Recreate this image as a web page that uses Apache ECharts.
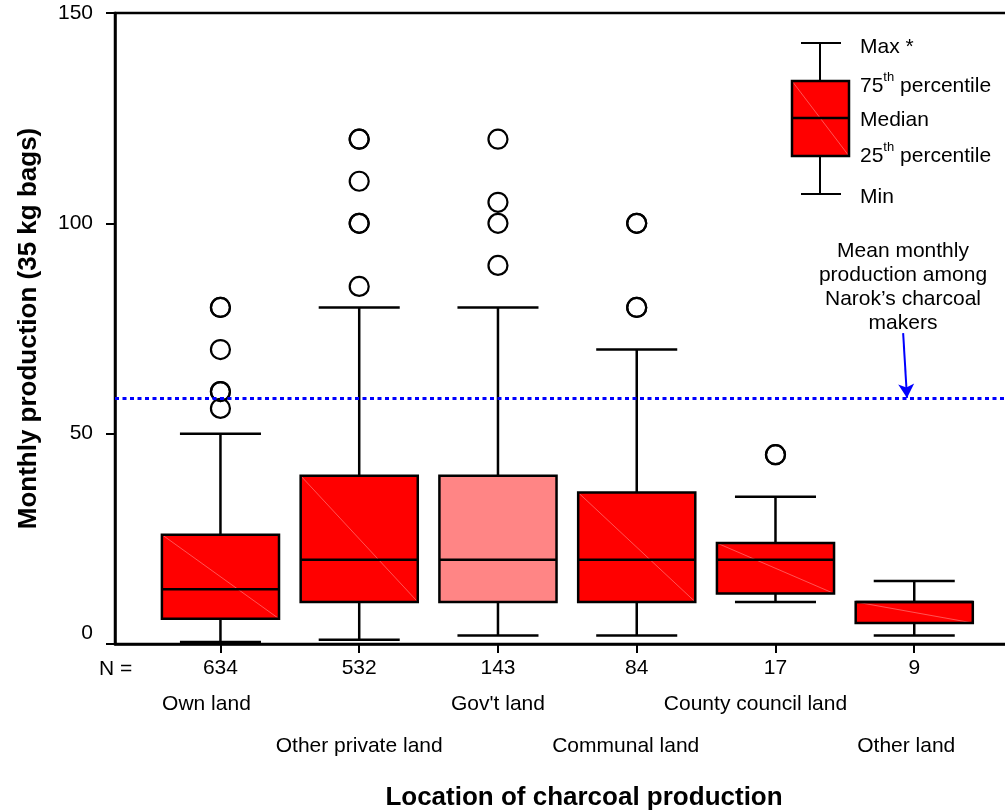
<!DOCTYPE html>
<html><head><meta charset="utf-8">
<script src="https://cdn.jsdelivr.net/npm/echarts@6/dist/echarts.min.js"></script>
<style>html,body{margin:0;padding:0;background:#fff}#chart{width:1005px;height:812px}</style>
</head><body><div id="chart"></div>
<script>
// ---------- data ----------
const categories = ['Own land', 'Other private land', "Gov't land", 'Communal land', 'County council land', 'Other land'];
const nValues = [634, 532, 143, 84, 17, 9];
const minValues = [0.5, 1, 2, 2, 10, 2];
const q1Values = [6, 10, 10, 10, 12, 5];
const medianValues = [13, 20, 20, 20, 20, 10];
const q3Values = [26, 40, 40, 36, 24, 10];
const maxValues = [50, 80, 80, 70, 35, 15];
const outliers = [
  [80, 80, 70, 60, 60, 56],
  [120, 120, 110, 100, 100, 85],
  [120, 105, 100, 90],
  [100, 100, 80, 80],
  [45, 45],
  []
];
const meanProduction = 58.5;
const yTicks = [0, 50, 100, 150];
const annotationText = 'Mean monthly\nproduction among\nNarok\u2019s charcoal\nmakers';

// ---------- style ----------
const FONT = '"Liberation Sans", Arial, sans-serif';
const BOX_W = 0.844;   // box width in category units
const CAP_W = 0.584;   // whisker cap width in category units
const LW_BOX = 2.5;
const patternedIndex = 2;
const labelShiftLeft = [14, 0, 0, 11, 20, 8];

const catIdx = categories.map((c, i) => i);
const boxData = categories.map((c, i) => [i, minValues[i], q1Values[i], medianValues[i], q3Values[i], maxValues[i]]);
const outlierData = [];
outliers.forEach((arr, i) => arr.forEach(v => outlierData.push([i, v])));

function renderBox(params, api) {
  const i = api.value(0);
  const pMin = api.coord([i, api.value(1)]);
  const pQ1 = api.coord([i, api.value(2)]);
  const pMed = api.coord([i, api.value(3)]);
  const pQ3 = api.coord([i, api.value(4)]);
  const pMax = api.coord([i, api.value(5)]);
  const cx = pMin[0];
  const half = api.size([BOX_W, 0])[0] / 2;
  const capHalf = api.size([CAP_W, 0])[0] / 2;
  const stroke = { stroke: '#000', lineWidth: LW_BOX };
  const fill = i === patternedIndex ? '#ff8585' : '#ff0000';
  const rectShape = { x: cx - half, y: pQ3[1], width: 2 * half, height: pQ1[1] - pQ3[1] };
  const children = [
    { type: 'line', shape: { x1: cx, y1: pMax[1], x2: cx, y2: pQ3[1] }, style: stroke },
    { type: 'line', shape: { x1: cx, y1: pQ1[1], x2: cx, y2: pMin[1] }, style: stroke },
    { type: 'line', shape: { x1: cx - capHalf, y1: pMax[1], x2: cx + capHalf, y2: pMax[1] }, style: stroke },
    { type: 'line', shape: { x1: cx - capHalf, y1: pMin[1], x2: cx + capHalf, y2: pMin[1] }, style: stroke },
    { type: 'rect', shape: rectShape, style: { fill: fill, stroke: null } }
  ];
  if (i !== patternedIndex) {
    children.push({ type: 'line', shape: { x1: cx - half, y1: pQ3[1], x2: cx + half, y2: pQ1[1] }, style: { stroke: '#ff6a6a', lineWidth: 0.8 } });
  }
  children.push({ type: 'rect', shape: rectShape, style: { fill: null, stroke: '#000', lineWidth: LW_BOX } });
  children.push({ type: 'line', shape: { x1: cx - half, y1: pMed[1], x2: cx + half, y2: pMed[1] }, style: stroke });
  return { type: 'group', children: children };
}

// legend key (pixel layout of the explanatory key)
const LX = 792, LY = 81, LW = 57, LH = 75;
const legendGraphics = [
  { type: 'line', shape: { x1: 820, y1: 43, x2: 820, y2: LY }, style: { stroke: '#000', lineWidth: 2 } },
  { type: 'line', shape: { x1: 820, y1: LY + LH, x2: 820, y2: 194 }, style: { stroke: '#000', lineWidth: 2 } },
  { type: 'line', shape: { x1: 801, y1: 43, x2: 841, y2: 43 }, style: { stroke: '#000', lineWidth: 2 } },
  { type: 'line', shape: { x1: 801, y1: 194, x2: 841, y2: 194 }, style: { stroke: '#000', lineWidth: 2 } },
  { type: 'rect', shape: { x: LX, y: LY, width: LW, height: LH }, style: { fill: '#ff0000', stroke: null } },
  { type: 'line', shape: { x1: LX, y1: LY, x2: LX + LW, y2: LY + LH }, style: { stroke: '#ff6a6a', lineWidth: 0.8 } },
  { type: 'rect', shape: { x: LX, y: LY, width: LW, height: LH }, style: { fill: null, stroke: '#000', lineWidth: 2.5 } },
  { type: 'line', shape: { x1: LX, y1: 118, x2: LX + LW, y2: 118 }, style: { stroke: '#000', lineWidth: 2.5 } }
];
const legendTexts = [
  ['{a|Max *}', 45], ['{a|75}{s|th}{a| percentile}', 84], ['{a|Median}', 118], ['{a|25}{s|th}{a| percentile}', 154], ['{a|Min}', 195]
].map(([t, y]) => ({
  type: 'text', x: 860, y: y,
  style: {
    text: t, verticalAlign: 'middle', align: 'left',
    rich: {
      a: { fontSize: 21, fontFamily: FONT, fill: '#000', lineHeight: 26, verticalAlign: 'bottom' },
      s: { fontSize: 13, fontFamily: FONT, fill: '#000', lineHeight: 26, verticalAlign: 'top', padding: [0, 0, 12, 0] }
    }
  }
}));

const nameRich = {};
labelShiftLeft.forEach((s, i) => {
  nameRich['c' + i] = { fontSize: 21, fontFamily: FONT, color: '#000', lineHeight: 24, padding: [0, 2 * s, 0, 0] };
});

function nameAxis(values, offset) {
  return {
    type: 'value', min: -0.76, max: 6, gridIndex: 0, position: 'bottom', offset: offset,
    splitLine: { show: false }, axisLine: { show: false }, axisTick: { show: false },
    axisLabel: {
      customValues: values, margin: 8, color: '#000', fontSize: 21, fontFamily: FONT,
      formatter: v => { const i = Math.round(v); return '{c' + i + '|' + categories[i] + '}'; },
      rich: nameRich
    }
  };
}

const chart = echarts.init(document.getElementById('chart'), null, { renderer: 'canvas' });
chart.setOption({
  animation: false,
  backgroundColor: '#fff',
  textStyle: { fontFamily: FONT },
  grid: { left: 115, top: 13, right: -48, bottom: 168, outerBoundsMode: 'none', show: true, borderColor: '#000', borderWidth: 2.5, backgroundColor: 'transparent' },
  xAxis: [{
    type: 'value', min: -0.76, max: 6, position: 'bottom',
    splitLine: { show: false },
    axisLine: { show: true, onZero: false, lineStyle: { color: '#000', width: 2.5 } },
    axisTick: { show: true, customValues: catIdx, length: 9, lineStyle: { color: '#000', width: 2 } },
    axisLabel: {
      customValues: catIdx,
      color: '#000', fontSize: 21, fontFamily: FONT, margin: 14,
      formatter: v => String(nValues[Math.round(v)])
    },
    name: 'Location of charcoal production', nameLocation: 'middle', nameGap: 141,
    nameTextStyle: { fontSize: 26, fontWeight: 'bold', color: '#000', fontFamily: FONT }
  },
  nameAxis(catIdx.filter(i => i % 2 === 0), 40),
  nameAxis(catIdx.filter(i => i % 2 === 1), 82)
  ],
  yAxis: {
    type: 'value', min: 0, max: 150,
    splitLine: { show: false },
    axisLine: { show: true, onZero: false, lineStyle: { color: '#000', width: 2.5 } },
    axisTick: { show: true, customValues: yTicks, length: 9, lineStyle: { color: '#000', width: 2 } },
    axisLabel: {
      customValues: yTicks,
      color: '#000', fontSize: 21, fontFamily: FONT, margin: 22,
      formatter: v => (v === 0 ? '{z|0}' : String(v)),
      rich: { z: { fontSize: 21, fontFamily: FONT, color: '#000', padding: [0, 0, 22, 0] } }
    },
    name: 'Monthly production (35 kg bags)', nameLocation: 'middle', nameRotate: 90, nameGap: 73,
    nameTextStyle: { fontSize: 26, fontWeight: 'bold', color: '#000', fontFamily: FONT }
  },
  series: [
    {
      type: 'custom', name: 'boxes', renderItem: renderBox, data: boxData,
      encode: { x: 0, y: [1, 2, 3, 4, 5] }, z: 2
    },
    {
      type: 'scatter', name: 'outliers', data: outlierData, symbol: 'circle', symbolSize: 19,
      itemStyle: { color: 'rgba(0,0,0,0)', borderColor: '#000', borderWidth: 2.2, opacity: 1 }, z: 3
    },
    {
      type: 'line', name: 'mean', data: [], z: 4,
      markLine: {
        silent: true, symbol: 'none', label: { show: false },
        lineStyle: { color: '#0000ff', width: 3, type: [4, 3.5] },
        data: [{ yAxis: meanProduction }]
      }
    },
    {
      type: 'line', name: 'arrow', data: [], z: 5,
      markLine: {
        silent: true, symbol: ['none', 'arrow'], symbolSize: [12, 14], label: { show: false },
        lineStyle: { color: '#0000ff', width: 2, type: 'solid' },
        data: [[{ coord: [4.92, 73.9] }, { coord: [4.948, meanProduction] }]]
      }
    }
  ],
  graphic: [
    { type: 'text', x: 99, y: 669, style: { text: 'N =', fontSize: 21, fontFamily: FONT, fill: '#000', verticalAlign: 'middle', align: 'left' } },
    { type: 'text', x: 903, y: 239, style: { text: annotationText, fontSize: 21, fontFamily: FONT, fill: '#000', align: 'center', verticalAlign: 'top', lineHeight: 24 } }
  ].concat(legendGraphics, legendTexts)
});
</script>
</body></html>
